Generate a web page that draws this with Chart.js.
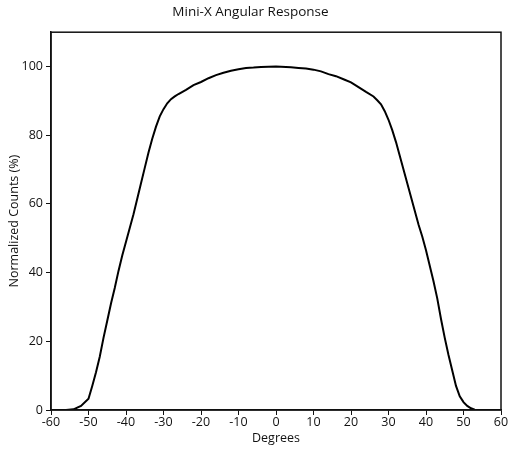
<!DOCTYPE html>
<html>
<head>
<meta charset="utf-8">
<script src="https://cdn.jsdelivr.net/npm/chart.js@4/dist/chart.umd.min.js"></script>
<style>
html,body{margin:0;padding:0;background:#fff;}
#wrap{width:510px;height:452px;}
</style>
</head>
<body>
<div id="wrap"><canvas id="c" width="510" height="452"></canvas></div>
<script>
const titleText = "Mini-X Angular Response";
const xLabel = "Degrees";
const yLabel = "Normalized Counts (%)";
const xTicks = [-60,-50,-40,-30,-20,-10,0,10,20,30,40,50,60];
const yTicks = [0,20,40,60,80,100];
const degrees = [-60,-56,-54,-52,-50,-49,-48,-47,-46,-45,-44,-43,-42,-41,-40,-39,-38,-37,-36,-35,-34,-33,-32,-31,-30,-29,-28,-27,-26,-24,-22,-20,-18,-16,-14,-12,-10,-8,-6,-4,0,4,6,8,10,12,14,16,18,20,22,24,26,27,28,29,30,31,32,33,34,35,36,37,38,39,40,41,42,43,44,45,46,47,48,49,50,51,52,53,54,60];
const counts = [0,0,0.2,1.2,3.3,7,11,15.5,21,26,31,35.5,40.5,45,49,53,57,61.5,66,70.5,75,79,82.5,85.5,87.6,89.3,90.5,91.3,92,93.2,94.6,95.5,96.6,97.5,98.2,98.8,99.2,99.6,99.7,99.9,100,99.8,99.6,99.4,99.1,98.6,97.8,97.2,96.3,95.4,94,92.6,91.3,90.2,89,87,84.5,81.5,78,74,70,66,62,58,54,50.5,46.5,42,37.5,32.5,26.5,21,16,11.5,7,4,2.3,1.2,0.5,0.1,0,0];

const FONT = "'Open Sans', 'DejaVu Sans', sans-serif";
const frame = {
  id: 'frame',
  afterDraw(chart){
    const a = chart.chartArea, ctx = chart.ctx;
    ctx.save();
    ctx.strokeStyle = '#111';
    ctx.lineWidth = 1.5;
    ctx.strokeRect(a.left, a.top, a.right - a.left, a.bottom - a.top);
    ctx.restore();
  }
};

new Chart(document.getElementById('c'), {
  type: 'line',
  data: {
    datasets: [{
      data: degrees.map((d,i)=>({x:d,y:counts[i]})),
      borderColor: '#000',
      borderWidth: 2,
      pointRadius: 0,
      tension: 0,
      fill: false
    }]
  },
  options: {
    responsive: false,
    animation: false,
    layout: { padding: { left: 0, right: 9, top: 0, bottom: 0 } },
    plugins: {
      legend: { display: false },
      tooltip: { enabled: false },
      title: {
        display: true, text: titleText, color: '#111',
        font: { family: FONT, size: 13.5, weight: 'normal' },
        padding: { top: 4, bottom: 12 }
      }
    },
    scales: {
      x: {
        type: 'linear', min: -60, max: 60,
        afterBuildTicks(s){ s.ticks = xTicks.map(v=>({value:v})); },
        grid: { drawOnChartArea: false, drawTicks: true, tickLength: 5, color: '#111', lineWidth: 1 },
        border: { display: true, color: '#111', width: 1.5 },
        ticks: { color: '#111', font: { family: FONT, size: 12.5 }, padding: 0, maxRotation: 0, autoSkip: false },
        title: { display: true, text: xLabel, color: '#111', font: { family: FONT, size: 12.5 }, padding: { top: 0, bottom: 6 } },
        afterFit(s){ s.height = 42; }
      },
      y: {
        type: 'linear', min: 0, max: 110,
        afterBuildTicks(s){ s.ticks = yTicks.map(v=>({value:v})); },
        grid: { drawOnChartArea: false, drawTicks: true, tickLength: 5, color: '#111', lineWidth: 1 },
        border: { display: true, color: '#111', width: 1.5 },
        ticks: { color: '#111', font: { family: FONT, size: 12.5 }, padding: 3 },
        title: { display: true, text: yLabel, color: '#111', font: { family: FONT, size: 12.5 }, padding: { top: 7, bottom: 2 } },
        afterFit(s){ s.width = 51; }
      }
    }
  },
  plugins: [frame]
});
</script>
</body>
</html>
